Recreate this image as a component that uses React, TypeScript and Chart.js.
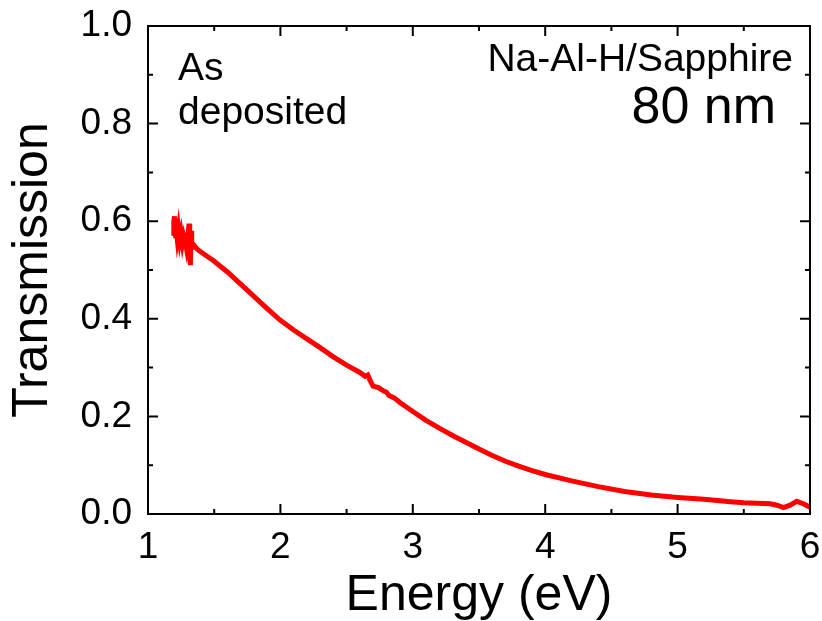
import React, { useEffect, useRef } from "react";
import { Chart, registerables } from "chart.js";

Chart.register(...registerables);

const energy = [
  1.19, 1.195, 1.2, 1.205, 1.21, 1.22, 1.23, 1.24, 1.25, 1.26, 1.27, 1.28, 1.29, 1.3, 1.31, 1.315, 1.32, 1.325, 1.33,
  1.35, 1.37, 1.4, 1.5, 1.6, 1.7, 1.8, 1.9, 2.0, 2.1, 2.2, 2.3, 2.4, 2.5, 2.6, 2.64, 2.66, 2.68, 2.7, 2.74, 2.78, 2.8,
  2.82, 2.86, 2.9, 3.0, 3.1, 3.2, 3.3, 3.4, 3.5, 3.6, 3.7, 3.8, 3.9, 4.0, 4.2, 4.4, 4.6, 4.8, 5.0, 5.2, 5.4, 5.5, 5.6,
  5.7, 5.75, 5.8, 5.85, 5.9, 5.95, 6.0,
];
const transmission = [
  0.57, 0.6, 0.61, 0.575, 0.59, 0.565, 0.585, 0.56, 0.575, 0.555, 0.57, 0.56, 0.545, 0.565, 0.595, 0.53, 0.51, 0.58, 0.545,
  0.55, 0.543, 0.537, 0.518, 0.496, 0.471, 0.446, 0.421, 0.397, 0.377, 0.359, 0.341, 0.322, 0.305, 0.29, 0.282, 0.285,
  0.272, 0.262, 0.259, 0.252, 0.25, 0.243, 0.238, 0.229, 0.21, 0.192, 0.176, 0.161, 0.147, 0.133, 0.12, 0.108, 0.098,
  0.089, 0.081, 0.068, 0.056, 0.046, 0.039, 0.034, 0.03, 0.025, 0.023, 0.022, 0.021, 0.018, 0.013, 0.018, 0.026, 0.021,
  0.014,
];
const xTicks = [1, 2, 3, 4, 5, 6];
const yTicks = [0, 0.2, 0.4, 0.6, 0.8, 1.0];
const xMinor = [1.5, 2.5, 3.5, 4.5, 5.5];
const yMinor = [0.1, 0.3, 0.5, 0.7, 0.9];
const labelLeft = ["As", "deposited"];
const labelSample = "Na-Al-H/Sapphire";
const labelThickness = "80 nm";

const FONT = "'Liberation Sans', Arial, Helvetica, sans-serif";

const framePlugin = {
  id: "framePlugin",
  afterDraw(chart: any) {
    const { ctx, chartArea, scales } = chart;
    const { left, right, top, bottom } = chartArea;
    const xs = scales.x;
    const ys = scales.y;
    ctx.save();
    ctx.strokeStyle = "#000";
    ctx.lineWidth = 2;
    ctx.lineCap = "butt";
    ctx.strokeRect(left, top, right - left, bottom - top);
    const major = 10;
    const minor = 5;
    ctx.beginPath();
    const xt = (v: number, len: number) => {
      const px = xs.getPixelForValue(v);
      ctx.moveTo(px, bottom);
      ctx.lineTo(px, bottom - len);
      ctx.moveTo(px, top);
      ctx.lineTo(px, top + len);
    };
    const yt = (v: number, len: number) => {
      const py = ys.getPixelForValue(v);
      ctx.moveTo(left, py);
      ctx.lineTo(left + len, py);
      ctx.moveTo(right, py);
      ctx.lineTo(right - len, py);
    };
    xTicks.forEach((v) => xt(v, major));
    xMinor.forEach((v) => xt(v, minor));
    yTicks.forEach((v) => yt(v, major));
    yMinor.forEach((v) => yt(v, minor));
    ctx.stroke();

    ctx.fillStyle = "#000";
    ctx.textBaseline = "alphabetic";
    ctx.font = `39px ${FONT}`;
    ctx.textAlign = "left";
    ctx.fillText(labelLeft[0], left + 30, top + 54);
    ctx.fillText(labelLeft[1], left + 30, top + 98);
    ctx.textAlign = "right";
    ctx.fillText(labelSample, right - 17, top + 45);
    ctx.font = `52px ${FONT}`;
    ctx.fillText(labelThickness, right - 34, top + 97);
    ctx.restore();
  },
};

export default function App() {
  const ref = useRef<HTMLCanvasElement | null>(null);
  useEffect(() => {
    if (!ref.current) return;
    const data = energy.map((e, i) => ({ x: e, y: transmission[i] }));
    const chart = new Chart(ref.current, {
      type: "line",
      data: {
        datasets: [
          {
            data,
            borderColor: "#ff0000",
            borderWidth: 5,
            pointRadius: 0,
            tension: 0,
            fill: false,
          },
        ],
      },
      options: {
        animation: false,
        responsive: false,
        maintainAspectRatio: false,
        layout: { padding: { left: 0, top: 26, right: 12, bottom: 0 } },
        plugins: { legend: { display: false }, tooltip: { enabled: false } },
        scales: {
          x: {
            type: "linear",
            min: 1,
            max: 6,
            afterBuildTicks: (s: any) => {
              s.ticks = xTicks.map((v) => ({ value: v }));
            },
            afterFit: (s: any) => {
              s.height = 107;
              s.paddingLeft = 0;
              s.paddingRight = 0;
            },
            grid: { display: false, drawTicks: false },
            border: { display: false },
            ticks: {
              padding: 12,
              color: "#000",
              font: { family: FONT, size: 37 },
              maxRotation: 0,
              callback: (v: any) => String(v),
            },
            title: {
              display: true,
              text: "Energy (eV)",
              color: "#000",
              font: { family: FONT, size: 50, lineHeight: 1 },
              padding: { top: 0, bottom: 0 },
            },
          },
          y: {
            type: "linear",
            min: 0,
            max: 1,
            afterBuildTicks: (s: any) => {
              s.ticks = yTicks.map((v) => ({ value: v }));
            },
            afterFit: (s: any) => {
              s.width = 148;
              s.paddingTop = 0;
              s.paddingBottom = 0;
            },
            grid: { display: false, drawTicks: false },
            border: { display: false },
            ticks: {
              padding: 16,
              color: "#000",
              font: { family: FONT, size: 37 },
              callback: (v: any) => Number(v).toFixed(1),
            },
            title: {
              display: true,
              text: "Transmission",
              color: "#000",
              font: { family: FONT, size: 50, lineHeight: 1 },
              padding: { top: 8, bottom: 0 },
            },
          },
        },
      },
      plugins: [framePlugin],
    });
    return () => chart.destroy();
  }, []);
  return (
    <div style={{ position: "absolute", left: 0, top: 0, width: 822, height: 621, background: "#fff" }}>
      <canvas ref={ref} width={822} height={621} style={{ width: 822, height: 621 }} />
    </div>
  );
}
